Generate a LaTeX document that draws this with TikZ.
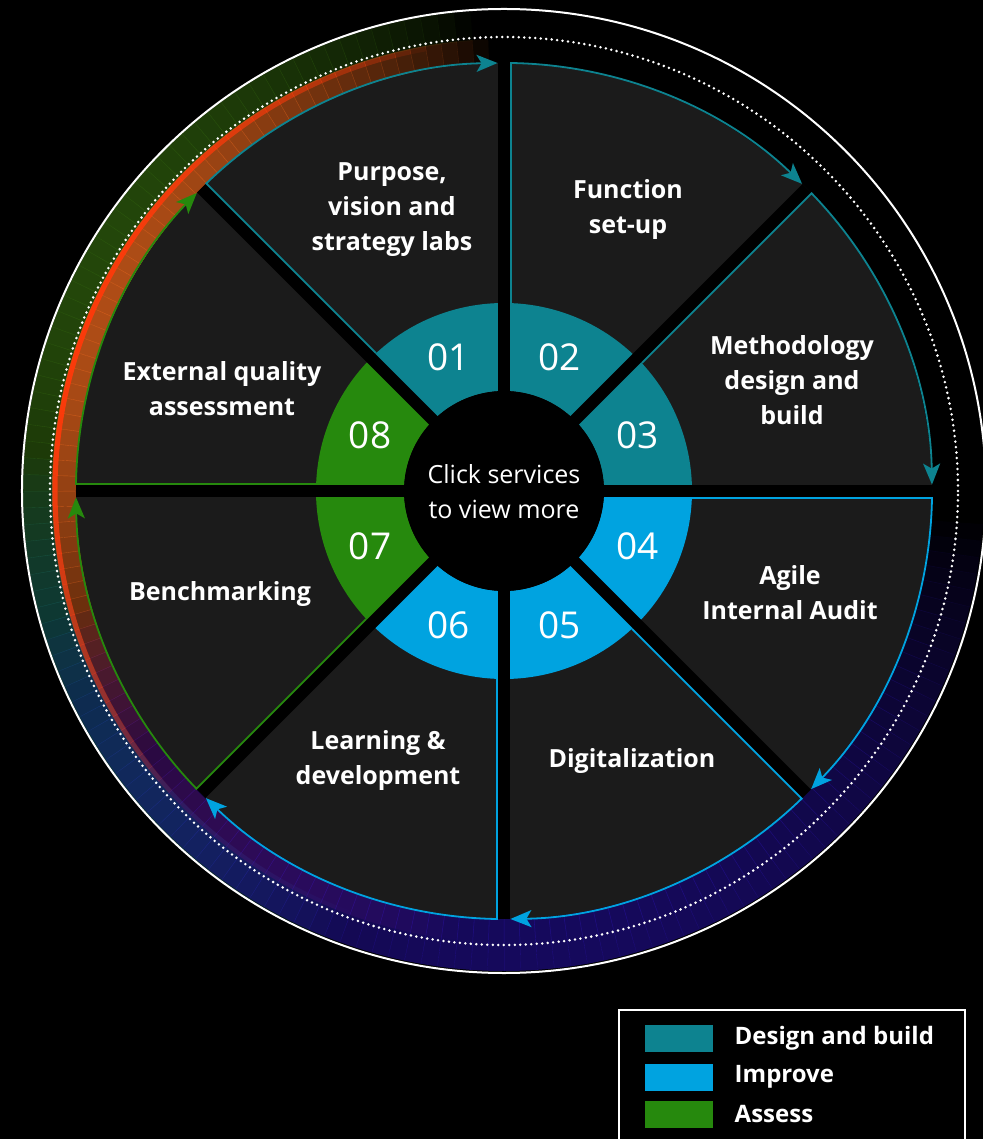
\documentclass[tikz,border=0pt]{standalone}
\usepackage{fontspec}
\setmainfont{Open Sans}
\usetikzlibrary{arrows.meta,calc,positioning}

\definecolor{designteal}{HTML}{0D8390}
\definecolor{improveblue}{HTML}{00A3E0}
\definecolor{assessgreen}{HTML}{26890D}
\definecolor{slicegray}{HTML}{1B1B1B}
\definecolor{glowred}{HTML}{FF3A0A}
\definecolor{gloworange}{HTML}{DA601C}
\definecolor{glowgreen}{HTML}{2F5E0E}
\definecolor{glowblue}{HTML}{2812A8}
\definecolor{glowteal}{HTML}{0E5666}
\definecolor{glowplum}{HTML}{701040}

% soft band: colour, radius, width, from, to, peak opacity
\newcommand\glowarc[6]{%
    \pgfmathtruncatemacro\glowsteps{(#5-#4)/2}%
    \foreach \i in {1,...,\glowsteps}{%
        \pgfmathsetmacro\glowa{#4+2*(\i-1)}%
        \pgfmathsetmacro\glowop{#6*pow(sin(180*(\i-0.5)/\glowsteps),0.7)}%
        \draw[#1, line width=#3, opacity=\glowop]
            (\glowa:#2) arc[start angle=\glowa, delta angle=2.05, radius=#2];
    }}

\tikzset{
    service/.style={text=white, align=center,
        font=\bfseries\fontsize{25}{35}\selectfont},
    numbertext/.style={text=white, font=\fontsize{37}{40}\selectfont},
    rim/.style={line width=1.8pt,
        -{Stealth[length=21pt,width=17pt,inset=5pt]}},
    gapline/.style={black, line width=12pt},
    legendbox/.style={minimum width=68pt, minimum height=27pt, inner sep=0pt},
    legendtext/.style={text=white, anchor=west,
        font=\bfseries\fontsize{24}{28}\selectfont},
}

\begin{document}
\begin{tikzpicture}[x=1pt, y=1pt]
    % page
    \useasboundingbox (-504,-648) rectangle (479,491);
    \fill[black] (-504,-648) rectangle (479,491);

    % glow round the wheel
    \glowarc{glowgreen}{466}{30pt}{94}{206}{.75}
    \glowarc{gloworange}{440}{24pt}{92}{216}{.8}
    \glowarc{glowteal}{464}{34pt}{176}{250}{.6}
    \glowarc{glowplum}{440}{22pt}{196}{264}{.45}
    \glowarc{glowblue}{454}{52pt}{196}{356}{.55}
    \glowarc{glowred}{449}{5pt}{100}{222}{.95}

    % outer rings
    \draw[white, line width=2.8pt, line cap=round, dash pattern=on 0pt off 5.5pt]
        (0,0) circle[radius=454];
    \draw[white, line width=2pt] (0,0) circle[radius=482];

    % slices
    \fill[slicegray] (0,0) circle[radius=428];
    \foreach \a/\col in {90/designteal, 45/designteal, 0/designteal,
                         -45/improveblue, -90/improveblue, -135/improveblue,
                         180/assessgreen, 135/assessgreen}
        \fill[\col] (\a:100) arc[start angle=\a, end angle={\a+45}, radius=100]
            -- ({\a+45}:188) arc[start angle={\a+45}, end angle=\a, radius=188] -- cycle;
    \foreach \a in {0,45,90,135}
        \draw[gapline] (\a:428) -- ({\a+180}:428);
    \draw[gapline] (90:428) -- (90:442);
    \fill[black] (0,0) circle[radius=100];

    % slice outlines with arrows
    \foreach \a/\col in {90/designteal, 45/designteal, 0/designteal,
                         -45/improveblue, -90/improveblue, -135/improveblue,
                         180/assessgreen, 135/assessgreen}
        \draw[rim, \col] ($({\a+45}:188)+({\a-45}:7)$) -- ($({\a+45}:428)+({\a-45}:7)$)
            arc[start angle={\a+44.06}, end angle={\a+0.85}, radius=428];

    % numbers
    \foreach \n/\ang in {01/112.5, 02/67.5, 03/22.5, 04/-22.5,
                         05/-67.5, 06/-112.5, 07/-157.5, 08/157.5}
        \node[numbertext] (n\n) at (\ang:145) {\n};

    % centre
    \node[text=white, align=center, font=\fontsize{25}{35}\selectfont]
        (hub) at (0,-1) {Click services\\to view more};

    % services
    \node[service] (s1) at (-112,281) {Purpose,\\vision and\\strategy labs};
    \node[service] (s2) at (124,281) {Function\\set-up};
    \node[service] (s3) at (288,111) {Methodology\\design and\\build};
    \node[service] (s4) at (286,-102) {Agile\\Internal Audit};
    \node[service] (s5) at (128,-270) {Digitalization};
    \node[service] (s6) at (-126,-270) {Learning \&\\development};
    \node[service] (s7) at (-284,-103) {Benchmarking};
    \node[service] (s8) at (-282,102) {External quality\\assessment};

    % legend
    \draw[white, line width=2pt] (115,-519) rectangle (461,-680);
    \node[legendbox, fill=designteal] (kdesign) at (175,-547.5) {};
    \node[legendbox, fill=improveblue] (kimprove) at (175,-586) {};
    \node[legendbox, fill=assessgreen] (kassess) at (175,-623) {};
    \node[legendtext, right=18pt of kdesign] (tdesign) {Design and build};
    \node[legendtext, right=18pt of kimprove] (timprove) {Improve};
    \node[legendtext, right=18pt of kassess] (tassess) {Assess};
\end{tikzpicture}
\end{document}
